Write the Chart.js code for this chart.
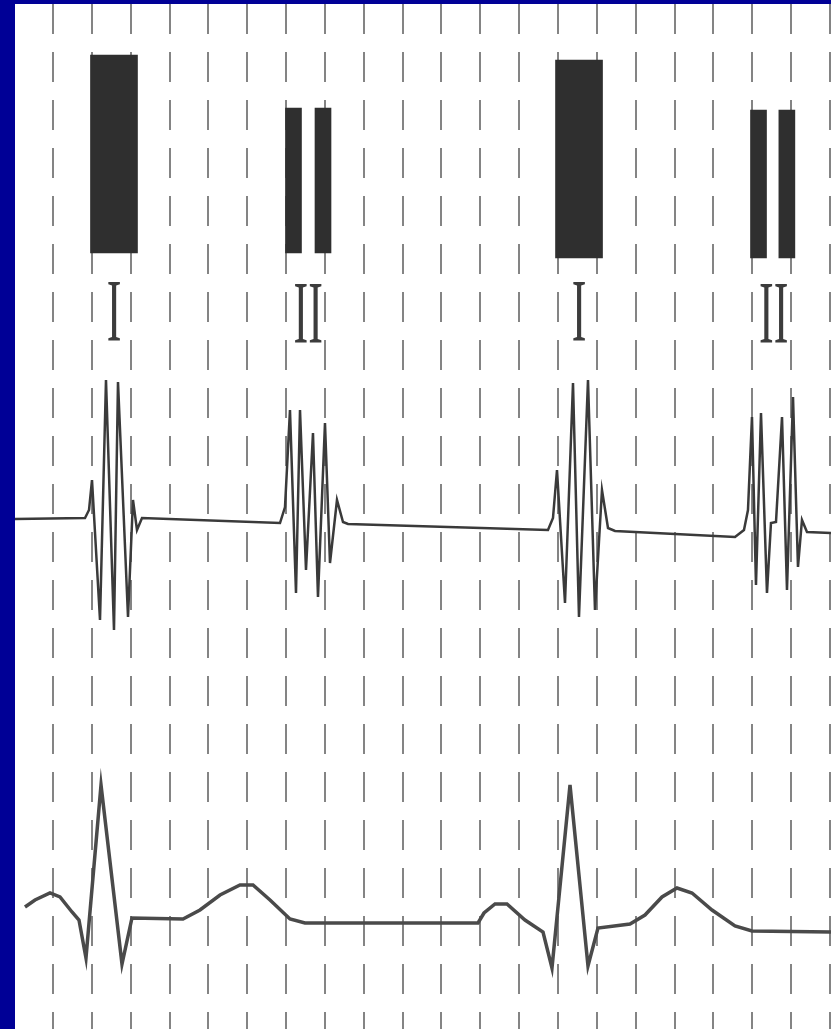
<!DOCTYPE html>
<html>
<head>
<meta charset="utf-8">
<script src="https://cdn.jsdelivr.net/npm/chart.js@4"></script>
<style>
  html, body { margin: 0; padding: 0; background: #000096; }
  #wrap { position: absolute; left: 15px; top: 4px; width: 816px; height: 1025px; background: #fff; }
  canvas { display: block; }
</style>
</head>
<body>
<div id="wrap"><canvas id="pcg" width="816" height="1025"></canvas></div>
<script>
// x = time in grid divisions, y = vertical position in chart units (0 = bottom)

// sound markers (floating bars: [bottom, top])
const wideBarX = [1.57, 13.54];
const wideBarY = [[77.6, 97.4], [77.1, 96.9]];
const narrowBarX = [6.19, 6.95, 18.16, 18.89];
const narrowBarY = [[77.6, 92.1], [77.6, 92.1], [77.1, 91.9], [77.1, 91.9]];

// heart sound labels
const labelText = ['I', 'II', 'I', 'II'];
const labelX = [1.57, 6.57, 13.54, 18.55];
const labelY = [68.9, 68.7, 68.9, 68.7];

// phonocardiogram trace
const pcgX = [-0.978, 0.824, 0.927, 1.004, 1.210, 1.364, 1.570, 1.673, 1.931, 2.059, 2.162, 2.291,
  5.843, 5.972, 6.100, 6.255, 6.358, 6.512, 6.692, 6.821, 7.001, 7.130, 7.310, 7.465, 7.593,
  12.741, 12.870, 12.973, 13.179, 13.385, 13.539, 13.771, 13.951, 14.131, 14.286, 14.466,
  17.555, 17.786, 17.889, 17.992, 18.095, 18.224, 18.378, 18.481, 18.610, 18.765, 18.893,
  19.048, 19.176, 19.279, 19.408, 20.026];
const pcgY = [51.0, 51.1, 51.9, 54.9, 40.9, 64.9, 39.9, 64.7, 41.2, 52.9, 49.9, 51.1,
  50.6, 52.2, 61.9, 43.6, 61.9, 45.9, 59.6, 43.2, 60.6, 46.6, 52.9, 50.7, 50.5,
  49.9, 51.1, 55.9, 42.6, 64.6, 41.2, 64.9, 41.9, 53.9, 50.1, 49.8,
  49.2, 49.9, 51.9, 61.2, 44.4, 61.6, 43.6, 50.6, 50.7, 61.2, 43.9,
  63.2, 46.2, 50.9, 49.7, 49.6];

// ECG trace
const ecgX = [-0.721, -0.463, -0.077, 0.180, 0.489, 0.669, 0.849, 1.236, 1.776, 2.033,
  3.346, 3.784, 4.299, 4.813, 5.148, 5.586, 6.100, 6.486,
  10.940, 11.094, 11.377, 11.686, 12.149, 12.613, 12.844, 13.308, 13.771, 14.028,
  14.852, 15.238, 15.676, 16.062, 16.448, 16.963, 17.555, 17.992, 20.026];
const ecgY = [12.2, 12.9, 13.6, 13.2, 11.7, 10.9, 7.1, 24.4, 6.5, 11.1,
  11.0, 11.9, 13.4, 14.4, 14.4, 12.9, 11.0, 10.6,
  10.6, 11.6, 12.5, 12.5, 10.9, 9.7, 6.1, 24.4, 6.3, 10.1,
  10.5, 11.4, 13.2, 14.1, 13.6, 11.9, 10.3, 9.8, 9.7];

const toPoints = (xs, ys) => xs.map((x, i) => ({ x: x, y: ys[i] }));

const labelPlugin = {
  id: 'soundLabels',
  afterDatasetsDraw(chart) {
    const { ctx, scales } = chart;
    ctx.save();
    ctx.fillStyle = '#3c3c3c';
    ctx.font = '88px "Liberation Serif", "DejaVu Serif", serif';
    ctx.textAlign = 'center';
    ctx.textBaseline = 'alphabetic';
    labelText.forEach((t, i) => {
      ctx.save();
      ctx.translate(scales.x.getPixelForValue(labelX[i]), scales.y.getPixelForValue(labelY[i]));
      ctx.scale(0.5, 1);
      ctx.fillText(t, 0, 0);
      ctx.restore();
    });
    ctx.restore();
  }
};

const ctx = document.getElementById('pcg').getContext('2d');
new Chart(ctx, {
  type: 'scatter',
  data: {
    datasets: [{
      type: 'bar',
      data: wideBarX.map((x, i) => ({ x: x, y: wideBarY[i] })),
      backgroundColor: '#2f2f2f',
      barThickness: 47,
      grouped: false
    }, {
      type: 'bar',
      data: narrowBarX.map((x, i) => ({ x: x, y: narrowBarY[i] })),
      backgroundColor: '#2f2f2f',
      barThickness: 16,
      grouped: false
    }, {
      type: 'line',
      data: toPoints(pcgX, pcgY),
      borderColor: '#3a3a3a',
      borderWidth: 2.5,
      pointRadius: 0,
      showLine: true,
      tension: 0,
      fill: false
    }, {
      type: 'line',
      data: toPoints(ecgX, ecgY),
      borderColor: '#4a4a4a',
      borderWidth: 3.5,
      pointRadius: 0,
      showLine: true,
      tension: 0,
      fill: false
    }]
  },
  options: {
    responsive: false,
    animation: false,
    layout: { padding: 0 },
    plugins: { legend: { display: false }, tooltip: { enabled: false } },
    scales: {
      x: {
        type: 'linear',
        min: -0.978,
        max: 20.026,
        offset: false,
        ticks: { display: false, stepSize: 1, includeBounds: false },
        grid: { color: 'rgba(80,80,80,0.7)', lineWidth: 2, drawTicks: false, offset: false },
        border: { display: false, dash: [30, 18] },
        afterBuildTicks: s => { s.ticks = s.ticks.filter(t => Number.isInteger(t.value)); },
        afterFit: s => { s.height = 0; }
      },
      y: {
        type: 'linear',
        min: 0,
        max: 102.5,
        display: false
      }
    }
  },
  plugins: [labelPlugin]
});
</script>
</body>
</html>
